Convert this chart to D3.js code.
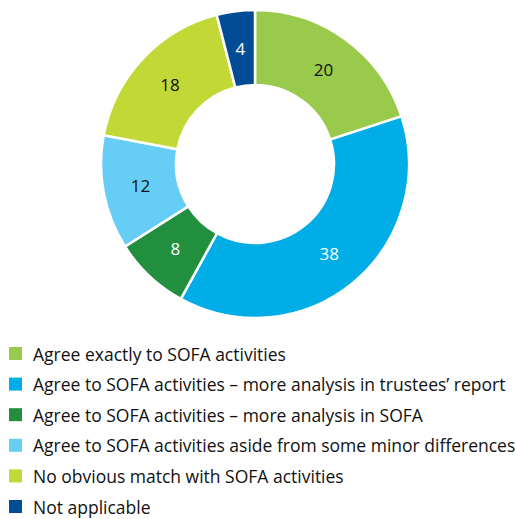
<!DOCTYPE html>
<html>
<head>
<meta charset="utf-8">
<script src="https://cdn.jsdelivr.net/npm/d3@7"></script>
<style>
  html, body { margin: 0; padding: 0; background: #fff; }
  svg { display: block; }
</style>
</head>
<body>
<svg id="chart" width="516" height="519"></svg>
<script>
// Categories and their counts, in clockwise order from 12 o'clock
const categories = [
  "Agree exactly to SOFA activities",
  "Agree to SOFA activities \u2013 more analysis in trustees\u2019 report",
  "Agree to SOFA activities \u2013 more analysis in SOFA",
  "Agree to SOFA activities aside from some minor differences",
  "No obvious match with SOFA activities",
  "Not applicable"
];
const values = [20, 38, 8, 12, 18, 4];
const colors = ["#9aca4c", "#00ade7", "#228f3e", "#66cef4", "#c2d837", "#024c96"];
const labelColors = ["#111", "#fff", "#fff", "#111", "#111", "#fff"];

const svg = d3.select("#chart");
const cx = 255, cy = 164, outerR = 154, innerR = 79;
const font = "'Open Sans', 'Noto Sans', sans-serif";

const data = categories.map((c, i) => ({ category: c, value: values[i], color: colors[i], label: labelColors[i] }));

const pie = d3.pie().value(d => d.value).sort(null);
const arc = d3.arc().innerRadius(innerR).outerRadius(outerR);
const labelArc = d3.arc().innerRadius((innerR + outerR) / 2).outerRadius((innerR + outerR) / 2);

const g = svg.append("g").attr("transform", `translate(${cx},${cy})`);
const arcs = pie(data);

g.selectAll("path.slice")
  .data(arcs)
  .join("path")
  .attr("class", "slice")
  .attr("d", arc)
  .attr("fill", d => d.data.color)
  .attr("stroke", "#fff")
  .attr("stroke-width", 2.5)
  .attr("stroke-linejoin", "miter");

g.selectAll("text.val")
  .data(arcs)
  .join("text")
  .attr("class", "val")
  .attr("transform", d => `translate(${labelArc.centroid(d)})`)
  .attr("text-anchor", "middle")
  .attr("dominant-baseline", "central")
  .attr("font-family", font)
  .attr("font-size", 17)
  .attr("fill", d => d.data.label)
  .text(d => d.data.value);

// Legend
const legend = svg.append("g").attr("transform", "translate(9,347)");
const rowH = 30.6;
const rows = legend.selectAll("g.row")
  .data(data)
  .join("g")
  .attr("class", "row")
  .attr("transform", (d, i) => `translate(0,${i * rowH})`);

rows.append("rect")
  .attr("width", 13)
  .attr("height", 13)
  .attr("fill", d => d.color);

rows.append("text")
  .attr("x", 24)
  .attr("y", 6.5)
  .attr("dominant-baseline", "central")
  .attr("font-family", font)
  .attr("font-size", 17.5)
  .attr("fill", "#111")
  .text(d => d.category);
</script>
</body>
</html>
